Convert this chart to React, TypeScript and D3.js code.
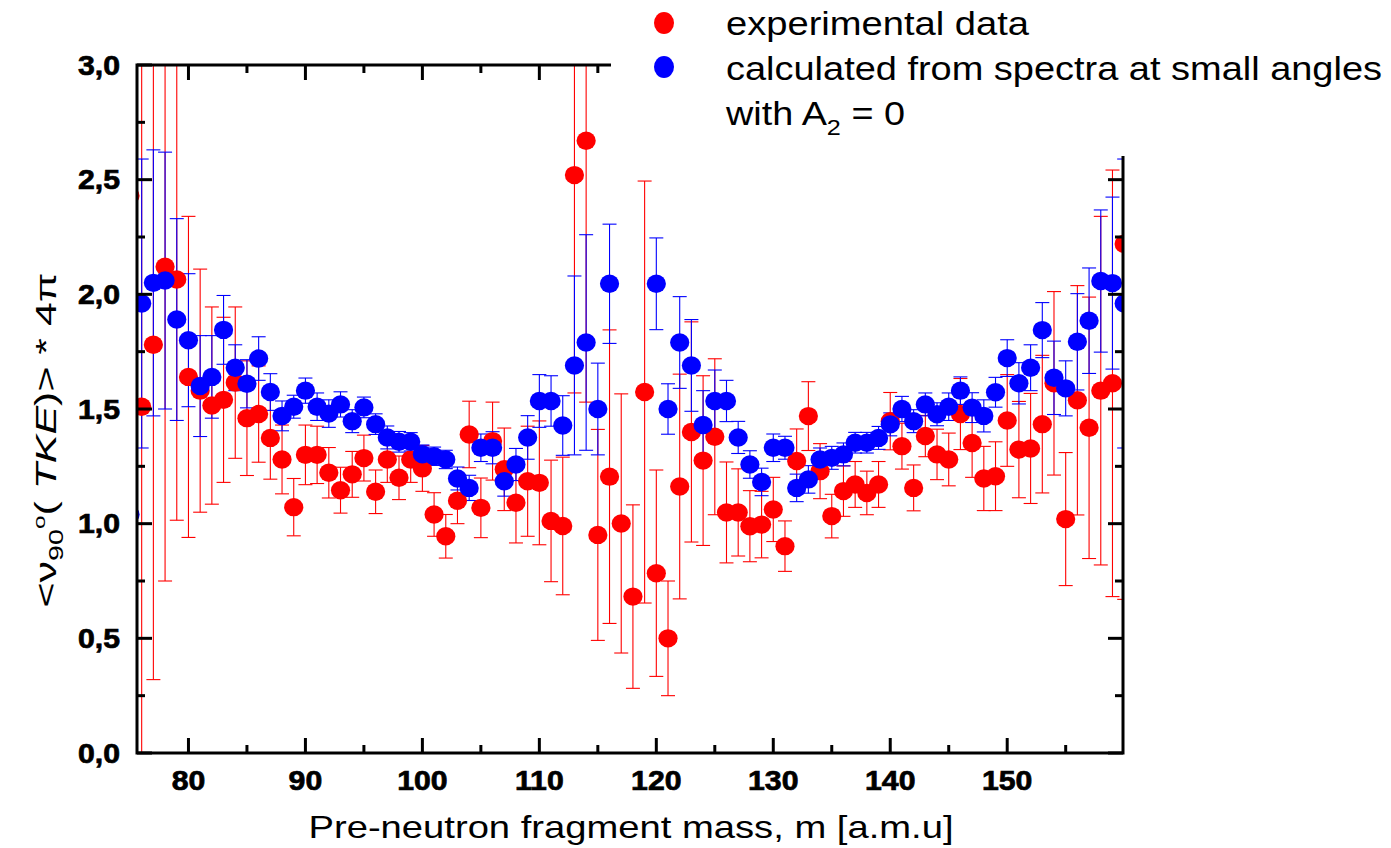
import React from 'react';
import * as d3 from 'd3';

// ---------- data ----------
const masses = [
  75, 76, 77, 78, 79, 80, 81, 82, 83, 84, 85, 86, 87, 88, 89, 90, 91, 92, 93, 94,
  95, 96, 97, 98, 99, 100, 101, 102, 103, 104, 105, 106, 107, 108, 109, 110, 111, 112, 113, 114,
  115, 116, 117, 118, 119, 120, 121, 122, 123, 124, 125, 126, 127, 128, 129, 130, 131, 132, 133, 134,
  135, 136, 137, 138, 139, 140, 141, 142, 143, 144, 145, 146, 147, 148, 149, 150, 151, 152, 153, 154,
  155, 156, 157, 158, 159, 160,
];

const expValues = [
  2.43, 1.51, 1.78, 2.12, 2.065, 1.64, 1.58, 1.515, 1.54, 1.615, 1.46, 1.478, 1.374, 1.28, 1.072, 1.3, 1.3, 1.222, 1.146, 1.215,
  1.286, 1.139, 1.28, 1.2, 1.28, 1.241, 1.04, 0.945, 1.1, 1.389, 1.069, 1.36, 1.237, 1.091, 1.185, 1.178, 1.012, 0.99, 2.52, 2.67,
  0.951, 1.205, 1.001, 0.682, 1.574, 0.784, 0.5, 1.162, 1.4, 1.275, 1.379, 1.049, 1.049, 0.989, 0.996, 1.062, 0.902, 1.273, 1.469, 1.229,
  1.033, 1.142, 1.171, 1.134, 1.171, 1.447, 1.338, 1.156, 1.382, 1.302, 1.28, 1.478, 1.352, 1.197, 1.207, 1.45, 1.323, 1.328, 1.434, 1.612,
  1.02, 1.538, 1.418, 1.58, 1.612, 2.22,
];

const expErrors = [
  1.0, 1.6, 1.46, 1.37, 1.05, 0.7, 0.53, 0.43, 0.36, 0.33, 0.25, 0.21, 0.18, 0.15, 0.125, 0.13, 0.125, 0.11, 0.1, 0.1,
  0.1, 0.095, 0.1, 0.095, 0.1, 0.1, 0.095, 0.095, 0.1, 0.145, 0.13, 0.17, 0.18, 0.175, 0.24, 0.27, 0.265, 0.3, 0.95, 1.14,
  0.46, 0.64, 0.565, 0.4, 0.92, 0.45, 0.25, 0.49, 0.48, 0.37, 0.34, 0.22, 0.19, 0.155, 0.145, 0.14, 0.11, 0.14, 0.15, 0.12,
  0.095, 0.11, 0.1, 0.095, 0.1, 0.125, 0.1, 0.1, 0.09, 0.11, 0.115, 0.155, 0.15, 0.14, 0.15, 0.2, 0.21, 0.24, 0.3, 0.4,
  0.29, 0.5, 0.57, 0.76, 0.93, 1.55,
];

const calcValues: (number | null)[] = [
  1.04, 1.96, 2.05, 2.06, 1.89, 1.8, 1.6, 1.64, 1.845, 1.68, 1.61, 1.72, 1.574, 1.47, 1.51, 1.58, 1.51, 1.48, 1.52, 1.447,
  1.507, 1.434, 1.376, 1.357, 1.357, 1.303, 1.294, 1.28, 1.197, 1.156, 1.331, 1.331, 1.185, 1.258, 1.376, 1.535, 1.535, 1.428, 1.69, 1.79,
  1.5, 2.046, null, null, null, 2.046, 1.5, 1.79, 1.69, 1.43, 1.535, 1.535, 1.376, 1.258, 1.182, 1.331, 1.331, 1.156, 1.193, 1.28,
  1.287, 1.302, 1.353, 1.353, 1.374, 1.433, 1.5, 1.447, 1.52, 1.477, 1.51, 1.58, 1.506, 1.47, 1.573, 1.722, 1.612, 1.68, 1.844, 1.636,
  1.59, 1.793, 1.885, 2.058, 2.049, 1.96,
];

const calcErrors: (number | null)[] = [
  0.5, 0.63, 0.58, 0.56, 0.44, 0.29, 0.22, 0.18, 0.15, 0.1, 0.105, 0.095, 0.08, 0.065, 0.05, 0.055, 0.06, 0.06, 0.055, 0.05,
  0.045, 0.045, 0.05, 0.045, 0.04, 0.04, 0.04, 0.04, 0.05, 0.055, 0.06, 0.07, 0.065, 0.07, 0.095, 0.115, 0.11, 0.13, 0.39, 0.47,
  0.2, 0.26, null, null, null, 0.2, 0.11, 0.2, 0.2, 0.15, 0.135, 0.09, 0.07, 0.06, 0.06, 0.06, 0.05, 0.06, 0.06, 0.05,
  0.05, 0.05, 0.045, 0.045, 0.05, 0.05, 0.055, 0.05, 0.05, 0.05, 0.06, 0.06, 0.065, 0.07, 0.065, 0.08, 0.09, 0.1, 0.12, 0.16,
  0.12, 0.21, 0.23, 0.31, 0.375, 0.63,
];

const xMajorTicks = [80, 90, 100, 110, 120, 130, 140, 150];
const xMinorTicks = [85, 95, 105, 115, 125, 135, 145, 155];
const yMajorTicks = [0, 0.5, 1, 1.5, 2, 2.5, 3];
const yTickLabels = ['0,0', '0,5', '1,0', '1,5', '2,0', '2,5', '3,0'];
const yMinorTicks = [0.25, 0.75, 1.25, 1.75, 2.25, 2.75];

const legendLabels = ['experimental data', 'calculated from spectra at small angles'];
const xTitle = 'Pre-neutron fragment mass, m [a.m.u]';

const RED = '#ff0000';
const BLUE = '#0000ff';
const FONT = '"Liberation Sans", Arial, Helvetica, sans-serif';

export default function App() {
  const W = 1391;
  const H = 848;
  const left = 137, right = 1123, top = 65, bottom = 753;

  const x = d3.scaleLinear().domain([75.6, 159.9]).range([left, right]);
  const y = d3.scaleLinear().domain([0, 3]).range([bottom, top]);

  const cap = 7;
  const rx = 9.6, ry = 9.2;

  const exp = masses.map((m, i) => ({ m, v: expValues[i], e: expErrors[i] }));
  const calc = masses
    .map((m, i) => ({ m, v: calcValues[i], e: calcErrors[i] }))
    .filter((d) => d.v !== null) as { m: number; v: number; e: number }[];

  const errBar = (d: { m: number; v: number; e: number }, color: string, key: string) => {
    const cx = x(d.m);
    const y1 = y(d.v + d.e);
    const y2 = y(d.v - d.e);
    return (
      <g key={key} stroke={color} strokeWidth={1.1}>
        <line x1={cx} x2={cx} y1={y1} y2={y2} />
        <line x1={cx - cap} x2={cx + cap} y1={y1} y2={y1} />
        <line x1={cx - cap} x2={cx + cap} y1={y2} y2={y2} />
      </g>
    );
  };

  const axisW = 3;
  const majLen = 15;
  const minLen = 8;

  return (
    <svg
      width={W}
      height={H}
      viewBox={`0 0 ${W} ${H}`}
      style={{ position: 'absolute', left: 0, top: 0, display: 'block', background: '#fff' }}
      fontFamily={FONT}
    >
      <defs>
        <clipPath id="plotClip">
          <rect x={left} y={top} width={right - left} height={bottom - top} />
        </clipPath>
      </defs>

      {/* data */}
      <g clipPath="url(#plotClip)">
        <g>{exp.map((d, i) => errBar(d, RED, 're' + i))}</g>
        <g>{calc.map((d, i) => errBar(d, BLUE, 'be' + i))}</g>
        <g fill={RED}>
          {exp.map((d, i) => (
            <ellipse key={'rm' + i} cx={x(d.m)} cy={y(d.v)} rx={rx} ry={ry} />
          ))}
        </g>
        <g fill={BLUE}>
          {calc.map((d, i) => (
            <ellipse key={'bm' + i} cx={x(d.m)} cy={y(d.v)} rx={rx} ry={ry} />
          ))}
        </g>
      </g>

      {/* frame */}
      <g stroke="#000" strokeWidth={axisW} fill="none">
        <rect x={left} y={top} width={right - left} height={bottom - top} />
        {xMajorTicks.map((t) => (
          <g key={'xM' + t}>
            <line x1={x(t)} x2={x(t)} y1={bottom} y2={bottom - majLen} />
            <line x1={x(t)} x2={x(t)} y1={top} y2={top + majLen} />
          </g>
        ))}
        {xMinorTicks.map((t) => (
          <g key={'xm' + t}>
            <line x1={x(t)} x2={x(t)} y1={bottom} y2={bottom - minLen} />
            <line x1={x(t)} x2={x(t)} y1={top} y2={top + minLen} />
          </g>
        ))}
        {yMajorTicks.map((t) => (
          <g key={'yM' + t}>
            <line x1={left} x2={left + majLen} y1={y(t)} y2={y(t)} />
            <line x1={right} x2={right - majLen} y1={y(t)} y2={y(t)} />
          </g>
        ))}
        {yMinorTicks.map((t) => (
          <g key={'ym' + t}>
            <line x1={left} x2={left + minLen} y1={y(t)} y2={y(t)} />
            <line x1={right} x2={right - minLen} y1={y(t)} y2={y(t)} />
          </g>
        ))}
      </g>

      {/* tick labels */}
      <g fontWeight="bold" fontSize={27} fill="#000" stroke="#000" strokeWidth={0.7}>
        {xMajorTicks.map((t) => (
          <text key={'xl' + t} transform={`translate(${x(t)},790) scale(1.12,1)`} textAnchor="middle">
            {String(t)}
          </text>
        ))}
        {yMajorTicks.map((t, i) => (
          <text key={'yl' + t} transform={`translate(120,${y(t) + 9.5}) scale(1.12,1)`} textAnchor="end">
            {yTickLabels[i]}
          </text>
        ))}
      </g>

      {/* axis titles */}
      <text x={631} y={838} textAnchor="middle" fontSize={32} textLength={645} lengthAdjust="spacingAndGlyphs" fill="#000">
        {xTitle}
      </text>
      <text
        transform="translate(56,440) rotate(-90)"
        textAnchor="middle"
        fontSize={30}
        textLength={335}
        lengthAdjust="spacingAndGlyphs"
        fill="#000"
      >
        <tspan>{'<ν'}</tspan>
        <tspan fontSize={20} dy={7}>90</tspan>
        <tspan fontSize={17} dy={-18}>o</tspan>
        <tspan dy={11}>{'( '}</tspan>
        <tspan fontStyle="italic">TKE</tspan>
        <tspan>{')> * 4π'}</tspan>
      </text>

      {/* legend (white box covering the top-right of the frame) */}
      <rect x={611} y={0} width={W - 611} height={156} fill="#fff" />
      <ellipse cx={664} cy={23} rx={10} ry={11} fill={RED} />
      <ellipse cx={664} cy={67} rx={10} ry={11} fill={BLUE} />
      <g fontSize={33} fill="#000">
        <text x={726} y={35} textLength={303} lengthAdjust="spacingAndGlyphs">
          {legendLabels[0]}
        </text>
        <text x={726} y={80} textLength={656} lengthAdjust="spacingAndGlyphs">
          {legendLabels[1]}
        </text>
        <text x={726} y={125} textLength={179} lengthAdjust="spacingAndGlyphs">
          <tspan>with A</tspan>
          <tspan fontSize={22} dy={10}>2</tspan>
          <tspan dy={-10}>{' = 0'}</tspan>
        </text>
      </g>
    </svg>
  );
}
